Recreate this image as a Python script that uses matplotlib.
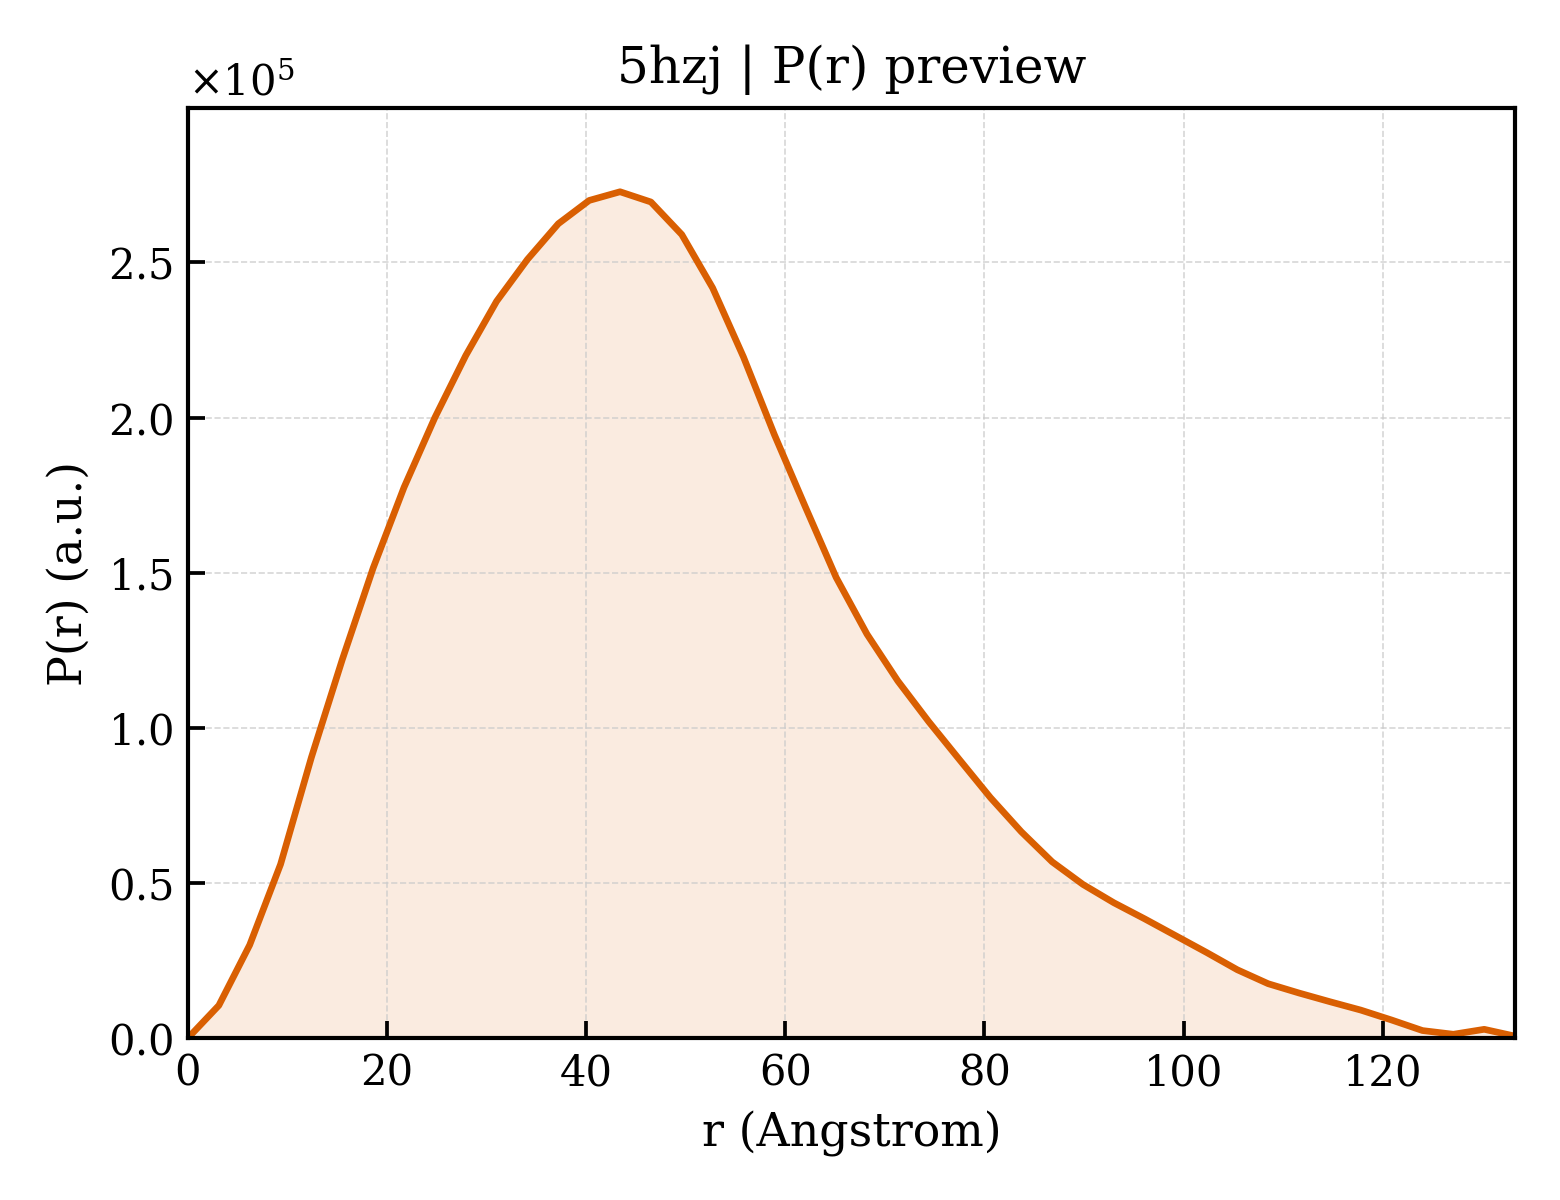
import matplotlib
matplotlib.use("Agg")
import matplotlib.pyplot as plt
from matplotlib.ticker import ScalarFormatter

plt.rcParams['font.family'] = 'DejaVu Serif'
plt.rcParams['mathtext.fontset'] = 'dejavuserif'

# P(r) curve
r_values = [0.0, 3.1, 6.2, 9.3, 12.4, 15.5, 18.6, 21.7, 24.8, 27.9,
            31.0, 34.1, 37.2, 40.3, 43.4, 46.5, 49.6, 52.7, 55.8, 58.9,
            62.0, 65.1, 68.2, 71.3, 74.4, 77.5, 80.6, 83.7, 86.8, 89.9,
            93.0, 96.1, 99.2, 102.3, 105.4, 108.5, 111.6, 114.7, 117.8, 120.9,
            124.0, 127.1, 130.2, 133.3]
pr_values = [0, 10500, 30000, 56000, 90500, 122000, 151500, 177500, 200000, 220000,
             237500, 251000, 262500, 270000, 272800, 269500, 259000, 241800, 219500, 194500,
             171300, 148500, 130200, 115100, 102000, 89700, 77500, 66500, 56800, 49500,
             43600, 38400, 33000, 27600, 22000, 17500, 14500, 11700, 9000, 5800,
             2400, 1200, 2800, 600]

color = '#D95F02'

fig = plt.figure(figsize=(5.2, 4), dpi=300)
ax = fig.add_axes([0.1205, 0.135, 0.8507, 0.775])

ax.fill_between(r_values, pr_values, 0, color=color, alpha=0.12, linewidth=0)
ax.plot(r_values, pr_values, color=color, linewidth=1.6)

ax.set_xlim(0, r_values[-1])
ax.set_ylim(0, 2.998e5)

ax.set_xlabel('r (Angstrom)', fontsize=11)
ax.set_ylabel('P(r) (a.u.)', fontsize=11)
ax.set_title('5hzj | P(r) preview', fontsize=12)

fmt = ScalarFormatter(useMathText=True)
fmt.set_powerlimits((0, 0))
ax.yaxis.set_major_formatter(fmt)
ax.yaxis.get_offset_text().set_fontsize(10)

ax.tick_params(direction='in', length=4, width=0.9, labelsize=10,
               top=False, right=False)
ax.grid(True, linestyle='--', linewidth=0.4, color='#cccccc', alpha=0.8)
for s in ax.spines.values():
    s.set_linewidth(1.0)

fig.savefig('out.png', dpi=300)
